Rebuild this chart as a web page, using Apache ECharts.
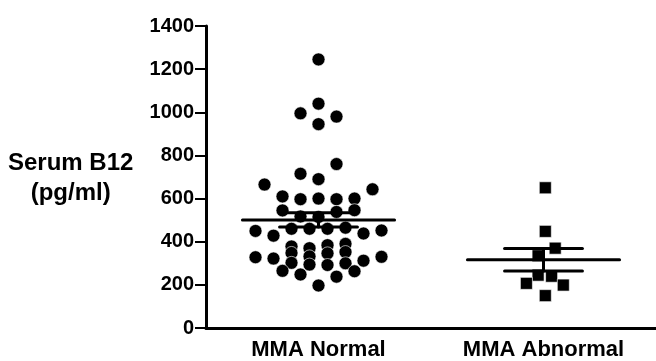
<!DOCTYPE html>
<html>
<head>
<meta charset="utf-8">
<script src="https://cdn.jsdelivr.net/npm/echarts@6/dist/echarts.min.js"></script>
<style>
html,body{margin:0;padding:0;background:#fff;}
#chart{width:656px;height:361px;}
</style>
</head>
<body>
<div id="chart"></div>
<script>
// ---- data ----
var categories = ['MMA Normal', 'MMA Abnormal'];
var yTicks = [0, 200, 400, 600, 800, 1000, 1200, 1400];

var normalValues = [
  1245, 1040, 995, 980, 945, 760, 715, 690, 665, 643,
  610, 597, 600, 597, 600, 545, 538, 546, 517, 515,
  450, 428, 460, 460, 460, 465, 438, 452,
  378, 348, 302, 370, 332, 294, 384, 346, 292, 390, 352, 300,
  328, 322, 312, 330, 265, 248, 238, 263, 197
];
// horizontal scatter (beeswarm) offsets, in symbol half-steps
var normalJitter = [
  0, 0, -2, 2, 0, 2, -2, 0, -6, 6,
  -4, -2, 0, 2, 4, -4, 2, 4, -2, 0,
  -7, -5, -3, -1, 1, 3, 5, 7,
  -3, -3, -3, -1, -1, -1, 1, 1, 1, 3, 3, 3,
  -7, -5, 5, 7, -4, -2, 2, 4, 0
];

var abnormalValues = [650, 448, 370, 335, 245, 240, 207, 199, 150];
var abnormalJitter = [0.2, 0.2, 1.3, -0.6, -0.6, 0.9, -1.9, 2.2, 0.2];

// ---- helpers ----
var STEP = 0.04;       // half-step in value-axis units
var MEAN_HALF = 0.338;
var SEM_HALF = 0.173;

function mean(a){ var s=0; a.forEach(function(v){s+=v;}); return s/a.length; }
function sem(a){
  var m = mean(a), s = 0;
  a.forEach(function(v){ s += (v-m)*(v-m); });
  return Math.sqrt(s/(a.length-1))/Math.sqrt(a.length);
}
function points(vals, jit, center){
  return vals.map(function(v,i){ return [center + jit[i]*STEP, v]; });
}
function statLines(vals, center){
  var m = mean(vals), e = sem(vals);
  return [
    {data: [[center-MEAN_HALF, m],[center+MEAN_HALF, m]]},
    {data: [[center-SEM_HALF, m+e],[center+SEM_HALF, m+e]]},
    {data: [[center-SEM_HALF, m-e],[center+SEM_HALF, m-e]]},
    {data: [[center, m-e],[center, m+e]]}
  ];
}

var lineSeries = [];
[[normalValues, 0.5],[abnormalValues, 1.5]].forEach(function(g){
  statLines(g[0], g[1]).forEach(function(l){
    lineSeries.push({
      type: 'line', xAxisIndex: 1, data: l.data, symbol: 'none',
      lineStyle: {color: '#000', width: 3, cap: 'round'}, z: 5, silent: true
    });
  });
});

var FONT = '"Liberation Sans", Arial, Helvetica, sans-serif';

var chart = echarts.init(document.getElementById('chart'), null, {renderer: 'canvas'});
chart.setOption({
  animation: false,
  backgroundColor: '#fff',
  grid: {left: 206, right: 0, top: 26, bottom: 33, containLabel: false},
  graphic: [{
    type: 'text', left: 8, top: 148,
    style: {
      text: 'Serum B12\n(pg/ml)', fill: '#000',
      font: 'bold 24px ' + FONT, textAlign: 'center', lineHeight: 30,
      x: 64
    }
  }],
  xAxis: [{
    type: 'category', data: categories, boundaryGap: true,
    axisLine: {lineStyle: {color: '#000', width: 3}},
    axisTick: {alignWithLabel: true, length: 8, lineStyle: {color: '#000', width: 2}},
    axisLabel: {color: '#000', fontFamily: FONT, fontWeight: 'bold', fontSize: 22, margin: 11},
    splitLine: {show: false}
  }, {
    type: 'value', min: 0, max: 2, show: false
  }],
  yAxis: {
    type: 'value', min: 0, max: 1400, interval: 200,
    axisLine: {show: true, lineStyle: {color: '#000', width: 3}},
    axisTick: {show: true, length: 11, lineStyle: {color: '#000', width: 2}},
    axisLabel: {
      color: '#000', fontFamily: FONT, fontWeight: 'bold', fontSize: 20, margin: 12,
      formatter: function(v){ return yTicks.indexOf(v) >= 0 ? String(v) : ''; }
    },
    splitLine: {show: false}
  },
  series: [{
    type: 'scatter', xAxisIndex: 1, symbol: 'circle', symbolSize: 13,
    itemStyle: {color: '#000', borderColor: '#fff', borderWidth: 0.6, opacity: 1},
    data: points(normalValues, normalJitter, 0.5), z: 3
  }, {
    type: 'scatter', xAxisIndex: 1, symbol: 'rect', symbolSize: 12,
    itemStyle: {color: '#000', borderColor: '#fff', borderWidth: 0.6, opacity: 1},
    data: points(abnormalValues, abnormalJitter, 1.5), z: 3
  }].concat(lineSeries)
});
</script>
</body>
</html>
